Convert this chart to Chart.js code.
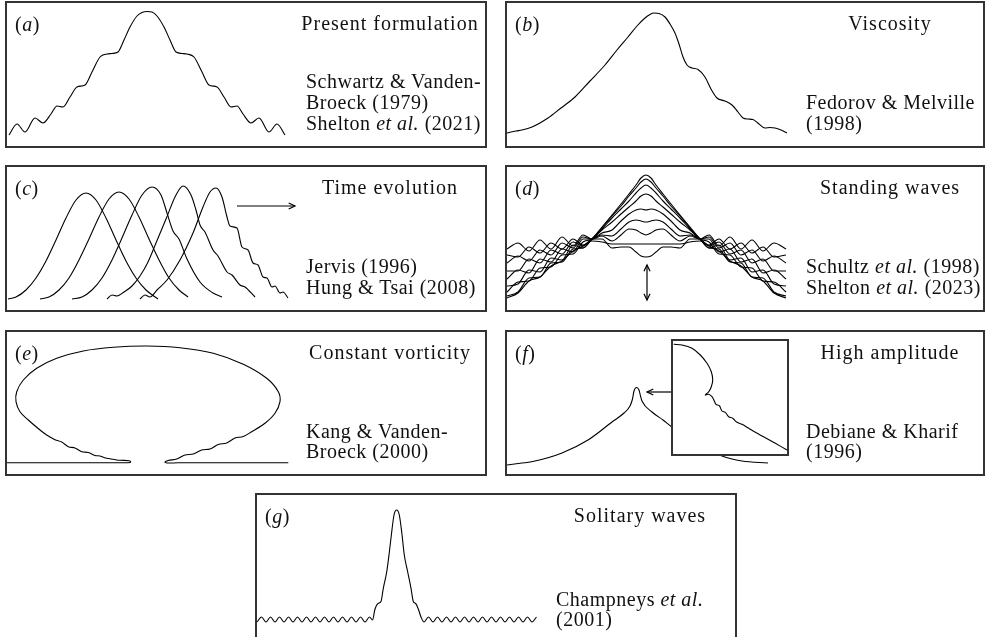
<!DOCTYPE html>
<html>
<head>
<meta charset="utf-8">
<script src="https://cdn.jsdelivr.net/npm/chart.js@4.4.0/dist/chart.umd.min.js"></script>
<style>
  body { margin: 0; background: #fff; width: 985px; height: 637px; overflow: hidden; position: relative;
         font-family: "Liberation Serif", "Times New Roman", serif; color: #111; }
  .frame { position: absolute; border: 2px solid #333; box-sizing: border-box; }
  .plot { position: absolute; }
  .txt { position: absolute; font-size: 20px; line-height: 20px; white-space: nowrap; letter-spacing: 0.5px;
         transform: translateY(-50%); }
  .title { text-align: center; width: 220px; letter-spacing: 1px; }
  .inset { position: absolute; border: 2px solid #333; box-sizing: border-box; background: #fff; }
</style>
</head>
<body>
<script>
// every curve: x = distance from the panel's left edge, h = height above the panel's bottom edge

// (a) present formulation
const aX = [3, 11, 19, 29, 37, 45, 51, 57, 64, 71, 79, 86, 94, 101, 106, 112, 118, 124, 131, 136, 141,
            146, 151, 158, 164, 170, 176, 181, 188, 196, 203, 211, 218, 225, 231, 237, 245, 253, 263, 271, 279];
const aH = [12, 23, 15, 29, 24, 33, 41, 40, 50, 60, 62, 75, 90, 93, 93.5, 95, 107, 120, 131, 134.5, 135.5,
            135, 131, 120, 107, 95, 93.5, 93, 90, 75, 62, 60, 50, 40, 41, 33, 24, 29, 15, 23, 12];

// (b) viscosity
const bX = [1, 10, 16, 26, 42, 55, 69, 84, 99, 111, 122, 131, 139, 144, 148, 153, 159, 164, 169, 173,
            177, 181, 186, 192, 199, 205, 211, 219, 226, 232, 237, 242, 247, 253, 259, 264, 269, 275, 281];
const bH = [14, 16, 17, 20, 29, 39, 50, 66, 82, 97, 110, 121, 129, 132.5, 134, 133.5, 130, 123, 114, 103,
            90, 82, 79, 77.5, 70, 58, 49, 46, 42, 35, 29, 28, 27.5, 23, 19, 19.5, 19, 17, 14];

// (c) time evolution, five snapshots
const c1X = [2, 10, 20, 30, 40, 50, 60, 70, 80, 90, 100, 110, 120, 130, 140, 152];
const c1H = [12, 14, 21, 33, 50, 71, 93, 111, 118, 111, 93, 71, 50, 33, 21, 12];
const c2X = [34, 43, 53, 63, 73, 83, 93, 103, 113, 123, 133, 143, 153, 163, 173, 182];
const c2H = [12, 14, 21, 33, 51, 72, 94, 112, 119, 112, 94, 72, 51, 33, 21, 14];
const c3X = [66, 76, 86, 96, 106, 116, 126, 136, 146, 155, 161, 167, 173, 181, 194, 207, 216];
const c3H = [12, 14, 21, 33, 51, 73, 96, 116, 124, 116, 98, 80, 72, 52, 29, 18, 14];
const c4X = [101, 106, 111, 118, 126, 134, 142, 150, 160, 170, 177, 185, 190, 194, 199, 207, 212, 221, 226, 234, 239, 249];
const c4H = [12, 16, 15, 19, 25, 35, 49, 68, 92, 116, 125, 116, 101, 86, 79, 61, 55, 39, 36, 26, 24, 14];
const c5X = [134, 139, 144, 151, 161, 174, 187, 197, 204, 210, 216, 221, 224, 231, 236, 242, 247, 252, 257, 261, 266, 269, 274, 277, 282];
const c5H = [12, 16, 14, 21, 31, 51, 78, 104, 119, 123, 114, 94, 85, 83, 64, 61, 48, 46, 34, 33, 24, 25, 18, 19, 13];

// (d) standing waves, nine snapshots on a shared grid
const dX = [1, 12, 23, 34, 45, 56, 67, 77, 86, 96, 106, 115, 123, 130, 135, 140, 145, 150, 157, 165, 174, 184, 194,
            203, 213, 224, 235, 246, 257, 268, 280];
const d1H = [13, 18, 30, 34, 45, 50, 60, 65, 72, 84, 96, 107, 117, 126, 133, 136, 133, 126, 117, 107, 96, 84, 72, 65, 60, 50, 45, 34, 30, 18, 13];
const d2H = [15, 19, 33, 34, 48, 49, 62, 63, 72, 83, 95, 105, 115, 123, 129, 132, 129, 123, 115, 105, 95, 83, 72, 63, 62, 49, 48, 34, 33, 19, 15];
const d3H = [19, 29, 30, 43, 44, 56, 57, 69, 72, 82, 93, 102, 110, 118, 123, 126, 123, 118, 110, 102, 93, 82, 72, 69, 57, 56, 44, 43, 30, 29, 19];
const d4H = [25, 27, 41, 39, 53, 51, 66, 63, 72, 81, 89, 97, 104, 110, 115, 117, 115, 110, 104, 97, 89, 81, 72, 63, 66, 51, 53, 39, 41, 27, 25];
const d5H = [32, 41, 38, 52, 49, 62, 59, 72, 72, 78, 81, 90, 97, 101, 102, 101, 102, 101, 97, 90, 81, 78, 72, 72, 59, 62, 49, 52, 38, 41, 32];
const d6H = [40, 40, 52, 48, 61, 57, 69, 65, 72, 76, 75, 82, 89, 91, 90, 89, 90, 91, 89, 82, 75, 76, 72, 65, 69, 57, 61, 48, 52, 40, 40];
const d7H = [48, 55, 50, 61, 56, 68, 63, 74, 72, 75, 70, 76, 82, 81, 78, 76, 78, 81, 82, 76, 70, 75, 72, 74, 63, 68, 56, 61, 50, 55, 48];
const d8H = [56, 54, 64, 58, 68, 62, 72, 66, 70, 69, 67, 67, 67, 67, 67, 67, 67, 67, 67, 67, 67, 69, 70, 66, 72, 62, 68, 58, 64, 54, 56];
const d9H = [62, 68, 60, 71, 62, 74, 65, 76, 72, 72, 63, 64, 64, 59, 55, 54, 55, 59, 64, 64, 63, 72, 72, 76, 65, 74, 62, 71, 60, 68, 62];

// (e) constant vorticity: overhanging crest, traced as one path
const eX = [0.7, 60, 112, 122.3, 124.7, 123.3, 114, 107.3, 100.7, 94, 89, 82.3, 75.7, 69, 62.3, 55.7, 49, 40.7, 34, 22.3,
            14, 10, 10.7, 17.3, 30.7, 50.7, 77.3, 107.3, 140.7, 174, 207.3, 237.3, 260.7, 272.3, 274, 269, 259, 245.7,
            237.3, 229, 220.7, 212.3, 204, 195.7, 187.3, 179, 170.7, 162.3, 159, 160.7, 172, 230, 282.3];
const eH = [12.3, 12.3, 12.3, 12.3, 13, 14.3, 14.7, 15.7, 16.7, 19, 19.5, 22.5, 23.3, 27, 28.3, 33, 35.3, 40, 45, 55,
            63.3, 73.3, 83.3, 95, 106.7, 116.7, 124, 127.7, 129, 127.3, 121.7, 110.7, 96.7, 83.3, 73.3, 61.7, 51.7, 43.3,
            38.5, 37, 32, 30.5, 26, 25, 21, 20, 16, 14.5, 13, 12, 12.2, 12.3, 12.3];

// (f) high amplitude, main curve and zoomed crest
const fX = [1, 29, 56, 82, 106, 118, 124, 126.5, 128, 130.5, 133, 134.5, 136, 146, 157, 166, 190, 216, 236, 262];
const fH = [10, 14, 22, 35, 53, 62, 69, 76, 84, 87.5, 85, 79, 74, 63, 55, 48, 32, 19, 14, 12];
const insetX = [1.7, 10, 20, 28.3, 35, 39.3, 40.7, 39.3, 36.7, 33.3, 36.7, 40, 42.3, 44, 47.3, 50, 53.3, 56.7, 60.7,
                65, 70, 76.7, 83.3, 93.3, 103.3, 115];
const insetH = [110.7, 110, 106.7, 100, 91.7, 83.3, 75, 68.3, 63.3, 60, 60.7, 58.3, 54, 50.7, 49.3, 44, 42.7, 38.3, 36.7,
                32.7, 30.7, 26.7, 22.7, 17.3, 11.7, 5];

// (g) solitary wave with ripple tails
const gX = [1, 5.5, 10, 14.5, 19, 23.5, 28, 32.5, 37, 41.5, 46, 50.5, 55, 59.5, 64, 68.5, 73, 77.5, 82, 86.5, 91, 95.5,
            100, 104.5, 109, 113.5, 116.5, 119, 122, 125, 127.3, 130.7, 133, 135.7, 138, 140.7, 143.3, 145.7, 148.3,
            151.7, 155, 157.3, 159.7, 162.3, 165, 168, 172.5, 177, 181.5, 186, 190.5, 195, 199.5, 204, 208.5, 213,
            217.5, 222, 226.5, 231, 235.5, 240, 244.5, 249, 253.5, 258, 262.5, 267, 271.5, 276, 280.5];
const gH = [17, 22, 17, 22, 17, 22, 17, 22, 17, 22, 17, 22, 17, 22, 17, 22, 17, 22, 17, 22, 17, 22,
            17, 22, 17, 22, 19, 30, 35.5, 37.5, 50.7, 67, 84, 107, 124, 129, 124, 107, 84,
            67, 50.7, 37.5, 35.5, 30, 22, 17, 22, 17, 22, 17, 22, 17, 22, 17, 22, 17,
            22, 17, 22, 17, 22, 17, 22, 17, 22, 17, 22, 17, 22, 17, 22];

// layout: box = [left, top, right, bottom] in page pixels
const layout = {
  a: { box: [6, 2, 486, 147], title: 'Present formulation',
       refs: ['Schwartz &amp; Vanden-', 'Broeck (1979)', 'Shelton <i>et al.</i> (2021)'], refY: [79, 100, 121] },
  b: { box: [506, 2, 984, 147], title: 'Viscosity', refs: ['Fedorov &amp; Melville', '(1998)'], refY: [100, 121] },
  c: { box: [6, 166, 486, 311], title: 'Time evolution', refs: ['Jervis (1996)', 'Hung &amp; Tsai (2008)'], refY: [100, 121],
       arrows: [{ from: [231, 105], to: [289, 105], both: false }] },
  d: { box: [506, 166, 984, 311], title: 'Standing waves',
       refs: ['Schultz <i>et al.</i> (1998)', 'Shelton <i>et al.</i> (2023)'], refY: [100, 121],
       arrows: [{ from: [141, 46], to: [141, 11], both: true }] },
  e: { box: [6, 331, 486, 475], title: 'Constant vorticity', refs: ['Kang &amp; Vanden-', 'Broeck (2000)'], refY: [100, 120] },
  f: { box: [506, 331, 984, 475], title: 'High amplitude', refs: ['Debiane &amp; Kharif', '(1996)'], refY: [100, 120],
       arrows: [{ from: [165, 83], to: [141, 83], both: false }],
       inset: [672, 340, 788, 455] },
  g: { box: [256, 494, 736, 639], title: 'Solitary waves', refs: ['Champneys <i>et al.</i>', '(2001)'], refY: [105, 125] }
};

const series = {
  a: [[aX, aH]],
  b: [[bX, bH]],
  c: [[c1X, c1H], [c2X, c2H], [c3X, c3H], [c4X, c4H], [c5X, c5H]],
  d: [d1H, d2H, d3H, d4H, d5H, d6H, d7H, d8H, d9H].map(h => [dX, h]),
  e: [[eX, eH]],
  f: [[fX, fH]],
  g: [[gX, gH]]
};
const smoothPaths = { e: true }; // paths that double back on x

const arrowPlugin = {
  id: 'arrows',
  afterDatasetsDraw(chart, args, opts) {
    const list = opts.list || [];
    const { ctx, scales: { x, y } } = chart;
    ctx.save();
    ctx.strokeStyle = '#000';
    ctx.lineWidth = 1.2;
    const head = (px, py, ang) => {
      ctx.beginPath();
      ctx.moveTo(px - 7 * Math.cos(ang - 0.45), py - 7 * Math.sin(ang - 0.45));
      ctx.lineTo(px, py);
      ctx.lineTo(px - 7 * Math.cos(ang + 0.45), py - 7 * Math.sin(ang + 0.45));
      ctx.stroke();
    };
    list.forEach(a => {
      const x1 = x.getPixelForValue(a.from[0]), y1 = y.getPixelForValue(a.from[1]);
      const x2 = x.getPixelForValue(a.to[0]), y2 = y.getPixelForValue(a.to[1]);
      ctx.beginPath();
      ctx.moveTo(x1, y1);
      ctx.lineTo(x2, y2);
      ctx.stroke();
      const ang = Math.atan2(y2 - y1, x2 - x1);
      head(x2, y2, ang);
      if (a.both) head(x1, y1, ang + Math.PI);
    });
    ctx.restore();
  }
};

function makeCanvas(left, top, w, h) {
  const cv = document.createElement('canvas');
  cv.width = w;
  cv.height = h;
  cv.className = 'plot';
  cv.style.left = left + 'px';
  cv.style.top = top + 'px';
  cv.style.width = w + 'px';
  cv.style.height = h + 'px';
  document.body.appendChild(cv);
  return cv;
}

function drawCurves(canvas, w, h, curves, loop, arrows) {
  const datasets = curves.map(([xs, hs]) => ({
    data: xs.map((x, i) => ({ x: x, y: hs[i] })),
    showLine: true,
    borderColor: '#000',
    borderWidth: 1.1,
    pointRadius: 0,
    fill: false,
    tension: loop ? 0.35 : 0.4,
    cubicInterpolationMode: loop ? 'default' : 'monotone'
  }));
  return new Chart(canvas, {
    type: 'scatter',
    data: { datasets: datasets },
    options: {
      responsive: false,
      animation: false,
      events: [],
      layout: { padding: 0 },
      plugins: {
        legend: { display: false },
        tooltip: { enabled: false },
        arrows: { list: arrows || [] }
      },
      scales: {
        x: { type: 'linear', display: false, min: 0, max: w },
        y: { type: 'linear', display: false, min: 0, max: h }
      }
    },
    plugins: [arrowPlugin]
  });
}

function addText(html, left, top, cls) {
  const d = document.createElement('div');
  d.className = 'txt ' + (cls || '');
  d.style.left = left + 'px';
  d.style.top = top + 'px';
  d.innerHTML = html;
  document.body.appendChild(d);
}

Object.keys(layout).forEach(key => {
  const p = layout[key];
  const [x0, y0, x1, y1] = p.box;
  const w = x1 - x0, h = y1 - y0;
  const cv = makeCanvas(x0, y0, w, h);
  drawCurves(cv, w, h, series[key], smoothPaths[key], p.arrows);

  if (p.inset) {
    const [ix0, iy0, ix1, iy1] = p.inset;
    const iw = ix1 - ix0, ih = iy1 - iy0;
    const box = document.createElement('div');
    box.className = 'inset';
    box.style.left = (ix0 - 1) + 'px';
    box.style.top = (iy0 - 1) + 'px';
    box.style.width = (iw + 2) + 'px';
    box.style.height = (ih + 2) + 'px';
    document.body.appendChild(box);
    const icv = makeCanvas(ix0, iy0, iw, ih);
    drawCurves(icv, iw, ih, [[insetX, insetH]], true, []);
  }

  const frame = document.createElement('div');
  frame.className = 'frame';
  frame.style.left = (x0 - 1) + 'px';
  frame.style.top = (y0 - 1) + 'px';
  frame.style.width = (w + 2) + 'px';
  frame.style.height = (h + 2) + 'px';
  document.body.appendChild(frame);

  addText('(<i>' + key + '</i>)', x0 + 9, y0 + 22);
  addText(p.title, x0 + 384 - 110, y0 + 21, 'title');
  p.refs.forEach((r, i) => addText(r, x0 + 300, y0 + p.refY[i]));
});
</script>
</body>
</html>
